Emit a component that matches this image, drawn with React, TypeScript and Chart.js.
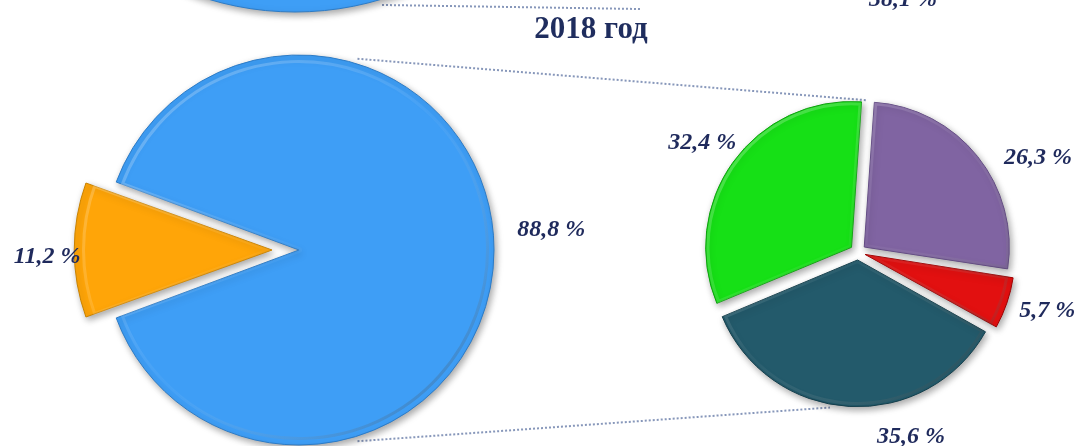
import React, { useEffect, useRef } from 'react';
import { Chart, registerables } from 'chart.js';

Chart.register(...registerables);

const W = 1076;
const H = 446;

const titleText = '2018 год';

// Main (left) pie
const mainCategories = ['Доля 1', 'Доля 2'];
const mainValues = [88.8, 11.2];
const mainColors = ['#3E9EF6', '#FFA508'];
const mainBorders = ['#2C7BC6', '#C98200'];
// Chart.js draws arcs shifted by offset/4 px
const mainOffsets = [20, 88];

// Detail (right) pie
const detailCategories = ['Часть 1', 'Часть 2', 'Часть 3', 'Часть 4'];
const detailValues = [26.3, 5.7, 35.6, 32.4];
const detailColors = ['#8064A2', '#E21010', '#235A6B', '#16E016'];
const detailBorders = ['#5E4680', '#9E0000', '#143E4B', '#0FA00F'];
const detailOffsets = [32, 30, 32, 32];

// Fragment of the previous chart, cut off by the top edge
const prevFragmentValues = [100];
const prevFragmentColors = ['#3E9EF6'];
const prevLabelText = '38,1 %';

// label placement (angle clockwise from top, distance from centre)
const mainLabelAngles = [85.6, 268.4];
const mainLabelDists = [258, 247];
const detailLabelAngles = [62.4, 107.2, 164, 304.9];
const detailLabelDists = [203, 198, 192, 190];

const LABEL_FONT = 'italic bold 24px "Liberation Serif", "Times New Roman", serif';
const TEXT_COLOR = '#1F2A5C';

const fmt = (v: number) => v.toFixed(1).replace('.', ',') + ' %';

const polar = (cx: number, cy: number, deg: number, r: number) => {
  const a = (deg * Math.PI) / 180;
  return { x: cx + r * Math.sin(a), y: cy - r * Math.cos(a) };
};

const shadowPlugin = {
  id: 'softShadow',
  beforeDatasetsDraw(chart: any) {
    const c = chart.ctx;
    c.save();
    c.shadowColor = 'rgba(0,0,0,0.35)';
    c.shadowBlur = 7;
    c.shadowOffsetX = 2;
    c.shadowOffsetY = 3;
  },
  afterDatasetsDraw(chart: any) {
    chart.ctx.restore();
  },
};

// soft bevel: light inner edge at top-left, darker at bottom-right
const bevelPlugin = {
  id: 'bevel',
  afterDatasetsDraw(chart: any) {
    const c = chart.ctx;
    chart.getSortedVisibleDatasetMetas().forEach((meta: any) => {
      meta.data.forEach((arc: any) => {
        const off = (arc.options.offset || 0) / 4;
        const half = (arc.startAngle + arc.endAngle) / 2;
        const cx = arc.x + Math.cos(half) * off;
        const cy = arc.y + Math.sin(half) * off;
        const R = arc.outerRadius;
        c.save();
        c.beginPath();
        if (arc.endAngle - arc.startAngle < Math.PI * 2 - 1e-6) c.moveTo(cx, cy);
        c.arc(cx, cy, R, arc.startAngle, arc.endAngle);
        c.closePath();
        c.clip();
        const g = c.createLinearGradient(cx - R, cy - R, cx + R, cy + R);
        g.addColorStop(0, 'rgba(255,255,255,0.3)');
        g.addColorStop(0.5, 'rgba(255,255,255,0.04)');
        g.addColorStop(1, 'rgba(0,0,0,0.3)');
        c.strokeStyle = g;
        c.lineWidth = 6;
        c.lineJoin = 'round';
        c.stroke();
        c.restore();
      });
    });
  },
};

const labelPlugin = {
  id: 'sliceLabels',
  afterDraw(chart: any, _args: any, opts: any) {
    if (!opts || !opts.angles) return;
    const meta = chart.getDatasetMeta(0);
    const values = chart.data.datasets[0].data as number[];
    const c = chart.ctx;
    c.save();
    c.font = LABEL_FONT;
    c.fillStyle = TEXT_COLOR;
    c.textAlign = 'center';
    c.textBaseline = 'middle';
    meta.data.forEach((arc: any, i: number) => {
      const p = polar(arc.x, arc.y, opts.angles[i], opts.dists[i]);
      c.fillText(fmt(values[i]), p.x, p.y);
    });
    c.restore();
  },
};

const pieRotation = (values: number[], idx: number, targetDeg: number) => {
  const total = values.reduce((a, b) => a + b, 0);
  let before = 0;
  for (let i = 0; i < idx; i++) before += values[i];
  return targetDeg - ((before + values[idx] / 2) / total) * 360;
};

export default function App() {
  const bgRef = useRef<HTMLCanvasElement>(null);
  const leftRef = useRef<HTMLCanvasElement>(null);
  const topRef = useRef<HTMLCanvasElement>(null);

  useEffect(() => {
    const left = new Chart(leftRef.current!, {
      type: 'pie',
      data: {
        labels: mainCategories,
        datasets: [
          {
            data: mainValues,
            backgroundColor: mainColors,
            borderColor: mainBorders,
            borderWidth: 1,
            offset: mainOffsets,
            hoverOffset: 0,
          },
        ],
      },
      options: {
        responsive: false,
        animation: false,
        rotation: pieRotation(mainValues, 1, 270),
        radius: 190,
        layout: { padding: { left: 0, right: 488, top: 54, bottom: 0 } },
        events: [],
        plugins: {
          legend: { display: false },
          tooltip: { enabled: false },
          title: { display: false },
          sliceLabels: { angles: mainLabelAngles, dists: mainLabelDists },
        } as any,
      } as any,
      plugins: [shadowPlugin, bevelPlugin, labelPlugin],
    });

    const decorPlugin = {
      id: 'decor',
      beforeDatasetsDraw(chart: any) {
        const c = chart.ctx;
        c.save();
        // title
        c.font = 'bold 31px "Liberation Serif", "Times New Roman", serif';
        c.fillStyle = '#1F2D5E';
        c.textAlign = 'center';
        c.textBaseline = 'alphabetic';
        c.fillText(titleText, 591, 38);
        // previous chart label, cut by top edge
        c.font = LABEL_FONT;
        c.fillStyle = TEXT_COLOR;
        c.fillText(prevLabelText, 903, 6);
        // connector lines
        c.strokeStyle = '#8797BA';
        c.lineWidth = 2;
        c.setLineDash([2, 2]);
        const lm = left.getDatasetMeta(0).data[0] as any;
        const rm = chart.getDatasetMeta(0).data[0] as any;
        const lcx = lm.x + mainOffsets[0] / 4;
        const lcy = lm.y;
        const lr = lm.outerRadius + 10;
        const rr = rm.outerRadius;
        const a1 = polar(lcx, lcy, 17, lr);
        const b1 = polar(rm.x, rm.y, 3.4, rr + 7);
        const a2 = polar(lcx, lcy, 163, lr);
        const b2 = polar(rm.x, rm.y, 190.2, rr + 13);
        c.beginPath();
        c.moveTo(a1.x, a1.y);
        c.lineTo(b1.x, b1.y);
        c.moveTo(a2.x, a2.y);
        c.lineTo(b2.x, b2.y);
        c.moveTo(382, 5);
        c.lineTo(640, 9);
        c.stroke();
        c.restore();
      },
    };

    const right = new Chart(bgRef.current!, {
      type: 'pie',
      data: {
        labels: detailCategories,
        datasets: [
          {
            data: detailValues,
            backgroundColor: detailColors,
            borderColor: detailBorders,
            borderWidth: 1,
            offset: detailOffsets,
            hoverOffset: 0,
          },
        ],
      },
      options: {
        responsive: false,
        animation: false,
        rotation: 4,
        radius: 145,
        layout: { padding: { left: 640, right: 0, top: 58, bottom: 0 } },
        events: [],
        plugins: {
          legend: { display: false },
          tooltip: { enabled: false },
          sliceLabels: { angles: detailLabelAngles, dists: detailLabelDists },
        } as any,
      } as any,
      plugins: [decorPlugin, shadowPlugin, bevelPlugin, labelPlugin],
    });

    const top = new Chart(topRef.current!, {
      type: 'pie',
      data: {
        labels: ['2017'],
        datasets: [
          {
            data: prevFragmentValues,
            backgroundColor: prevFragmentColors,
            borderColor: '#2C7BC6',
            borderWidth: 1,
            hoverOffset: 0,
          },
        ],
      },
      options: {
        responsive: false,
        animation: false,
        radius: 300,
        layout: { padding: 0 },
        events: [],
        plugins: { legend: { display: false }, tooltip: { enabled: false } },
      } as any,
      plugins: [shadowPlugin],
    });

    return () => {
      top.destroy();
      right.destroy();
      left.destroy();
    };
  }, []);

  return (
    <div
      style={{
        position: 'fixed',
        left: 0,
        top: 0,
        width: W,
        height: H,
        overflow: 'hidden',
        background: '#ffffff',
      }}
    >
      <canvas ref={bgRef} width={W} height={H} style={{ position: 'absolute', left: 0, top: 0, width: W, height: H }} />
      <canvas ref={leftRef} width={W} height={H} style={{ position: 'absolute', left: 0, top: 0, width: W, height: H }} />
      <canvas ref={topRef} width={640} height={640} style={{ position: 'absolute', left: -25, top: -608, width: 640, height: 640 }} />
    </div>
  );
}
